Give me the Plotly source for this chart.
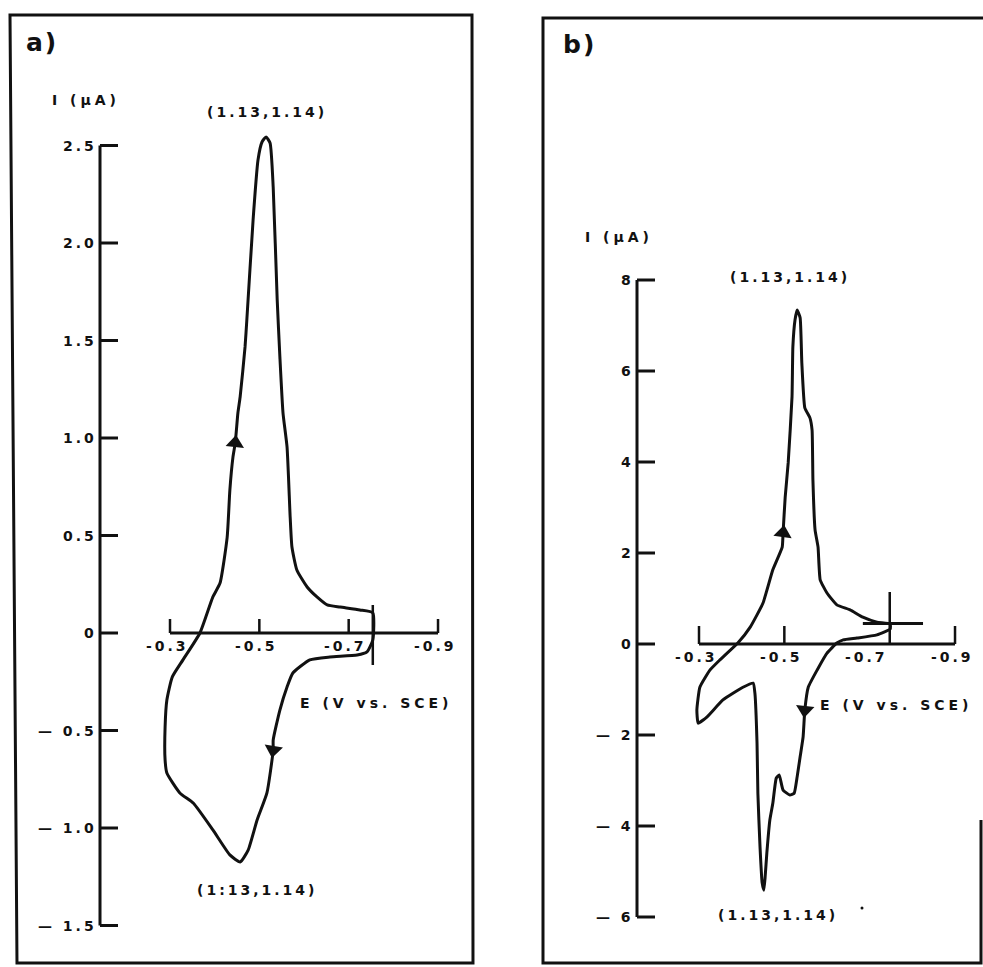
import plotly.graph_objects as go

W, H = 983, 967

# ---------------- data: panel a ----------------
# potential E (V vs. SCE) and current I (µA) along the scan
A_E = [-0.367, -0.396, -0.412, -0.428, -0.434, -0.441, -0.446, -0.452, -0.457, -0.468,
       -0.472, -0.486, -0.497, -0.506, -0.515, -0.524, -0.531, -0.540, -0.546, -0.553,
       -0.562, -0.569, -0.573, -0.584, -0.607, -0.629, -0.652, -0.681, -0.725, -0.754,
       -0.754, -0.741, -0.719, -0.658, -0.613, -0.575, -0.562, -0.546, -0.531, -0.531,
       -0.517, -0.495, -0.475, -0.457, -0.434, -0.396, -0.352, -0.322, -0.293, -0.289,
       -0.289, -0.293, -0.305, -0.329, -0.367]
A_I = [0.000, 0.185, 0.256, 0.492, 0.733, 0.903, 0.974, 1.128, 1.210, 1.467,
       1.605, 2.118, 2.426, 2.518, 2.544, 2.513, 2.287, 1.708, 1.415, 1.128,
       0.954, 0.595, 0.441, 0.323, 0.236, 0.185, 0.144, 0.133, 0.118, 0.103,
       -0.036, -0.097, -0.113, -0.123, -0.138, -0.205, -0.277, -0.395, -0.549, -0.600,
       -0.820, -0.959, -1.113, -1.174, -1.138, -1.010, -0.872, -0.820, -0.718, -0.651,
       -0.482, -0.344, -0.226, -0.138, 0.000]
A_ARROW_E = [-0.446, -0.531]
A_ARROW_I = [0.974, -0.600]
A_Y_TICKS = [2.5, 2.0, 1.5, 1.0, 0.5, 0.0, -0.5, -1.0, -1.5]
A_Y_LABELS = ["2.5", "2.0", "1.5", "1.0", "0.5", "0", "\u2014 0.5", "\u2014 1.0", "\u2014 1.5"]
A_X_TICKS = [-0.3, -0.5, -0.7, -0.9]
A_X_LABELS = ["-0.3", "-0.5", "-0.7", "-0.9"]
A_SWITCH_E = -0.754
A_PEAK_TOP = "(1.13,1.14)"
A_PEAK_BOTTOM = "(1:13,1.14)"

# ---------------- data: panel b ----------------
B_E = [-0.391, -0.420, -0.450, -0.473, -0.495, -0.497, -0.502, -0.509, -0.518, -0.520,
       -0.525, -0.530, -0.537, -0.541, -0.548, -0.560, -0.565, -0.567, -0.572, -0.579,
       -0.584, -0.600, -0.623, -0.654, -0.684, -0.717, -0.748,
       -0.748, -0.717, -0.670, -0.638, -0.623, -0.600, -0.577, -0.556, -0.548, -0.544,
       -0.537, -0.530, -0.523, -0.513, -0.497, -0.488, -0.481, -0.473, -0.466, -0.459,
       -0.455, -0.452, -0.448, -0.443, -0.438, -0.436, -0.431, -0.427, -0.403, -0.356,
       -0.319, -0.298, -0.295, -0.302, -0.326, -0.349, -0.391]
B_I = [0.02, 0.37, 0.90, 1.63, 2.13, 2.44, 3.23, 3.98, 5.43, 6.53,
       7.12, 7.34, 7.17, 6.18, 5.19, 4.97, 4.70, 3.60, 2.51, 2.13,
       1.41, 1.12, 0.86, 0.75, 0.59, 0.48, 0.44,
       0.33, 0.20, 0.13, 0.09, 0.02, -0.20, -0.57, -0.95, -1.45, -2.04,
       -2.48, -2.92, -3.28, -3.32, -3.21, -2.88, -2.95, -3.50, -3.87, -4.59,
       -5.12, -5.41, -5.25, -4.46, -3.28, -2.18, -1.08, -0.86, -0.95, -1.23,
       -1.60, -1.74, -1.45, -0.95, -0.57, -0.35, 0.02]
B_ARROW_E = [-0.497, -0.548]
B_ARROW_I = [2.44, -1.45]
B_Y_TICKS = [8, 6, 4, 2, 0, -2, -4, -6]
B_Y_LABELS = ["8", "6", "4", "2", "0", "\u2014 2", "\u2014 4", "\u2014 6"]
B_X_TICKS = [-0.3, -0.5, -0.9]
B_X_LABEL_POS = [-0.3, -0.5, -0.7, -0.9]
B_X_LABELS = ["-0.3", "-0.5", "-0.7", "-0.9"]
B_SWITCH_E = -0.747
B_END_I = 0.45
B_END_E = [-0.684, -0.825]
B_PEAK_TOP = "(1.13,1.14)"
B_PEAK_BOTTOM = "(1.13,1.14)"

# ---------------- layout geometry (pixels) ----------------
PANEL_A = dict(left=0, right=490, e0_px=170, e0=-0.3, px_per_v=446.7, i0_py=633, px_per_ua=195.0)
PANEL_B = dict(left=490, right=W, e0_px=699, e0=-0.3, px_per_v=426.7, i0_py=644, px_per_ua=45.5)


def e_at(p, px):
    return p["e0"] - (px - p["e0_px"]) / p["px_per_v"]


def i_at(p, py):
    return (p["i0_py"] - py) / p["px_per_ua"]


INK = "#111111"
FONT = "DejaVu Sans"


def spaced(s, gap=3):
    return '<span style="letter-spacing:%dpx">%s</span>' % (gap, s)


fig = go.Figure()

# curves and direction arrows
fig.add_trace(go.Scatter(x=A_E, y=A_I, mode="lines", xaxis="x", yaxis="y",
                         line=dict(color=INK, width=3, shape="spline", smoothing=0.5),
                         hoverinfo="skip", showlegend=False))
fig.add_trace(go.Scatter(x=A_ARROW_E, y=A_ARROW_I, mode="markers", xaxis="x", yaxis="y",
                         marker=dict(symbol=["triangle-up", "triangle-down"], size=16,
                                     angle=[6, 9], color=INK, line=dict(width=0)),
                         hoverinfo="skip", showlegend=False))
fig.add_trace(go.Scatter(x=B_E, y=B_I, mode="lines", xaxis="x2", yaxis="y2",
                         line=dict(color=INK, width=3, shape="spline", smoothing=0.4),
                         hoverinfo="skip", showlegend=False))
fig.add_trace(go.Scatter(x=B_ARROW_E, y=B_ARROW_I, mode="markers", xaxis="x2", yaxis="y2",
                         marker=dict(symbol=["triangle-up", "triangle-down"], size=16,
                                     angle=[8, 6], color=INK, line=dict(width=0)),
                         hoverinfo="skip", showlegend=False))

shapes = []
annotations = []


def seg(xr, yr, x0, y0, x1, y1, w=3):
    shapes.append(dict(type="line", xref=xr, yref=yr, x0=x0, y0=y0, x1=x1, y1=y1,
                       line=dict(color=INK, width=w), layer="above"))


def label(xr, yr, x, y, s, size=14, xanchor="center", yanchor="middle", xshift=0, yshift=0,
          gap=3, bold=True):
    annotations.append(dict(xref=xr, yref=yr, x=x, y=y, text=spaced(s, gap), showarrow=False,
                            xanchor=xanchor, yanchor=yanchor, xshift=xshift, yshift=yshift,
                            font=dict(family=FONT, size=size, color=INK,
                                      weight="bold" if bold else "normal")))


def px_paper(x, y):
    return x / W, 1 - y / H


def draw_axes(p, xr, yr, y_ticks, y_labels, x_ticks, x_label_pos, x_labels,
              yaxis_px, ytick_px, xtick_h, switch_e, switch_py):
    ya = e_at(p, yaxis_px)
    ya_tick = e_at(p, yaxis_px + ytick_px)
    seg(xr, yr, ya, min(y_ticks), ya, max(y_ticks))
    for v, s in zip(y_ticks, y_labels):
        seg(xr, yr, ya, v, ya_tick, v)
        label(xr, yr, ya, v, s, xanchor="right", xshift=-1)
    seg(xr, yr, max(x_ticks), 0, min(x_ticks), 0)
    th = xtick_h / p["px_per_ua"]
    for v in x_ticks:
        seg(xr, yr, v, 0, v, th, w=2.5)
    for v, s in zip(x_label_pos, x_labels):
        label(xr, yr, v, 0, s, yshift=-13, xshift=-3)
    seg(xr, yr, switch_e, i_at(p, switch_py[0]), switch_e, i_at(p, switch_py[1]), w=2.5)


draw_axes(PANEL_A, "x", "y", A_Y_TICKS, A_Y_LABELS, A_X_TICKS, A_X_TICKS, A_X_LABELS,
          100, 18, 14, A_SWITCH_E, (605, 665))
draw_axes(PANEL_B, "x2", "y2", B_Y_TICKS, B_Y_LABELS, B_X_TICKS, B_X_LABEL_POS, B_X_LABELS,
          637, 18, 18, B_SWITCH_E, (592, 644))
seg("x2", "y2", B_END_E[0], B_END_I, B_END_E[1], B_END_I, w=3)

# peak labels
label("x", "y", -0.517, 2.67, A_PEAK_TOP)
label("x", "y", -0.495, -1.318, A_PEAK_BOTTOM)
label("x2", "y2", -0.513, 8.07, B_PEAK_TOP)
label("x2", "y2", -0.485, -5.956, B_PEAK_BOTTOM)

# axis titles and panel letters
for (x, y, s, anchor) in [
    (50, 100, "I (\u00b5A)", "left"),
    (298, 703, "E (V vs. SCE)", "left"),
    (583, 237, "I (\u00b5A)", "left"),
    (818, 705, "E (V vs. SCE)", "left"),
]:
    px, py = px_paper(x, y)
    label("paper", "paper", px, py, s, xanchor=anchor, gap=4)
for (x, y, s) in [(24, 42, "a)"), (561, 45, "b)")]:
    px, py = px_paper(x, y)
    label("paper", "paper", px, py, s, size=25, xanchor="left", gap=2, bold=True)

# small stray dot near panel b's lower label
px, py = px_paper(862, 908)
shapes.append(dict(type="circle", xref="paper", yref="paper",
                   x0=px - 1.5 / W, x1=px + 1.5 / W, y0=py - 1.5 / H, y1=py + 1.5 / H,
                   fillcolor=INK, line=dict(width=0)))


def frame_path(pts, closed=True):
    coords = ["%s %.5f,%.5f" % ("M" if k == 0 else "L", x / W, 1 - y / H)
              for k, (x, y) in enumerate(pts)]
    return " ".join(coords) + (" Z" if closed else "")


shapes.append(dict(type="path", xref="paper", yref="paper",
                   path=frame_path([(10, 15), (472, 15), (473, 963), (17, 963)]),
                   line=dict(color=INK, width=3)))
shapes.append(dict(type="path", xref="paper", yref="paper",
                   path=frame_path([(990, 18), (543, 18), (543, 963), (981, 963), (981, 820)],
                                   closed=False),
                   line=dict(color=INK, width=3)))

axis_common = dict(visible=False, fixedrange=True, showgrid=False, zeroline=False)
fig.update_layout(
    width=W, height=H,
    margin=dict(l=0, r=0, t=0, b=0),
    paper_bgcolor="white", plot_bgcolor="white",
    showlegend=False,
    xaxis=dict(domain=[PANEL_A["left"] / W, PANEL_A["right"] / W],
               range=[e_at(PANEL_A, PANEL_A["left"]), e_at(PANEL_A, PANEL_A["right"])],
               anchor="y", **axis_common),
    yaxis=dict(domain=[0, 1], range=[i_at(PANEL_A, H), i_at(PANEL_A, 0)], anchor="x",
               **axis_common),
    xaxis2=dict(domain=[PANEL_B["left"] / W, PANEL_B["right"] / W],
                range=[e_at(PANEL_B, PANEL_B["left"]), e_at(PANEL_B, PANEL_B["right"])],
                anchor="y2", **axis_common),
    yaxis2=dict(domain=[0, 1], range=[i_at(PANEL_B, H), i_at(PANEL_B, 0)], anchor="x2",
                **axis_common),
    shapes=shapes,
    annotations=annotations,
)

fig.write_html("out.html", config={"displayModeBar": False})
